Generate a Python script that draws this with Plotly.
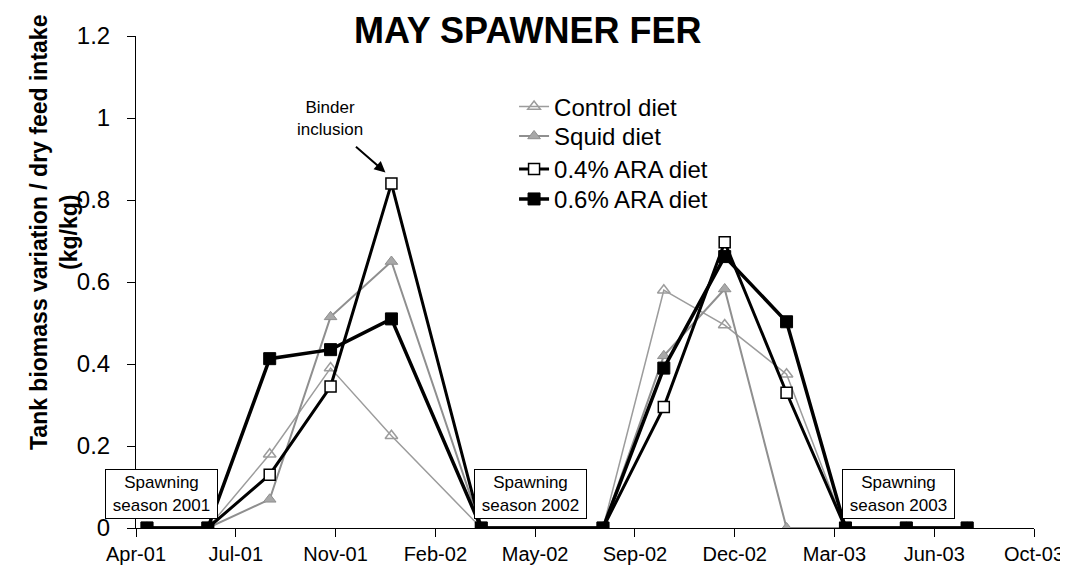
import plotly.graph_objects as go
from datetime import date, timedelta

# ---------------- data ----------------
dates = ["2001-05-01", "2001-07-01", "2001-09-01", "2001-11-01", "2002-01-01",
         "2002-04-01", "2002-08-01", "2002-10-01", "2002-12-01", "2003-02-01",
         "2003-04-01", "2003-06-01", "2003-08-01"]
control = [0, 0, 0.18, 0.39, 0.225, 0, 0, 0.58, 0.495, 0.375, 0, 0, 0]
squid = [0, 0, 0.07, 0.515, 0.65, 0, 0, 0.42, 0.583, 0, 0, 0, 0]
ara04 = [0, 0, 0.13, 0.345, 0.84, 0, 0, 0.295, 0.697, 0.33, 0, 0, 0]
ara06 = [0, 0, 0.413, 0.435, 0.51, 0, 0, 0.39, 0.662, 0.503, 0, 0, 0]

series_names = ["Control diet", "Squid diet", "0.4% ARA diet", "0.6% ARA diet"]
tick_labels = ["Apr-01", "Jul-01", "Nov-01", "Feb-02", "May-02", "Sep-02",
               "Dec-02", "Mar-03", "Jun-03", "Oct-03"]
axis_start = date(2001, 4, 20)
tick_step_days = 100
y_ticks = [0, 0.2, 0.4, 0.6, 0.8, 1, 1.2]
y_tick_text = ["0", "0.2", "0.4", "0.6", "0.8", "1", "1.2"]

FONT = "Liberation Sans, Arial, sans-serif"

tick_vals = [(axis_start + timedelta(days=tick_step_days * i)).isoformat()
             for i in range(len(tick_labels))]
x_range = [axis_start.isoformat(),
           (axis_start + timedelta(days=tick_step_days * (len(tick_labels) - 1))).isoformat()]

fig = go.Figure()

fig.add_trace(go.Scatter(
    x=dates, y=control, name=series_names[0], mode="lines+markers",
    line=dict(color="#9c9c9c", width=1.5),
    marker=dict(symbol="triangle-up-open", size=11, color="#9c9c9c",
                line=dict(color="#9c9c9c", width=1.5)),
    legend="legend"))
fig.add_trace(go.Scatter(
    x=dates, y=squid, name=series_names[1], mode="lines+markers",
    line=dict(color="#8f8f8f", width=2),
    marker=dict(symbol="triangle-up", size=11, color="#a8a8a8",
                line=dict(color="#8f8f8f", width=1)),
    legend="legend2"))
fig.add_trace(go.Scatter(
    x=dates, y=ara04, name=series_names[2], mode="lines+markers",
    line=dict(color="black", width=3),
    marker=dict(symbol="square", size=11, color="white",
                line=dict(color="black", width=1.5)),
    legend="legend3"))
fig.add_trace(go.Scatter(
    x=dates, y=ara06, name=series_names[3], mode="lines+markers",
    line=dict(color="black", width=3.5),
    marker=dict(symbol="square", size=12, color="black",
                line=dict(color="black", width=1)),
    legend="legend4"))

def leg(ypos):
    return dict(x=0.421, y=ypos, xanchor="left", yanchor="middle",
                bgcolor="rgba(0,0,0,0)", borderwidth=0,
                font=dict(family=FONT, size=24, color="black"))

annotations = [
    # chart title
    dict(text="<b>MAY SPAWNER FER</b>", x=0.436, y=1.012, xref="paper", yref="paper",
         xanchor="center", yanchor="middle", showarrow=False,
         font=dict(family=FONT, size=36, color="black")),
    # y-axis title
    dict(text="<b>Tank biomass variation / dry feed intake<br>(kg/kg)</b>",
         x=-0.0911, y=0.6, xref="paper", yref="paper", textangle=-90,
         xanchor="center", yanchor="middle", showarrow=False,
         font=dict(family=FONT, size=23, color="black")),
    # binder note
    dict(text="Binder<br>inclusion", x=0.216, y=0.833, xref="paper", yref="paper",
         xanchor="center", yanchor="middle", showarrow=False,
         font=dict(family=FONT, size=17, color="black")),
    dict(text="", x=0.2778, y=0.7227, xref="paper", yref="paper",
         showarrow=True, ax=-31, ay=-27, arrowhead=2, arrowsize=1.1,
         arrowwidth=2, arrowcolor="black"),
]
for label, xp in [("2001", 0.0283), ("2002", 0.439), ("2003", 0.849)]:
    annotations.append(dict(
        text="Spawning<br>season " + label, x=xp, y=0.0688, xref="paper", yref="paper",
        xanchor="center", yanchor="middle", showarrow=False,
        width=107, height=44, borderpad=2, bordercolor="black", borderwidth=1,
        bgcolor="white", font=dict(family=FONT, size=17, color="black")))

fig.update_layout(
    width=1068, height=569,
    margin=dict(l=128, r=40, t=28, b=47),
    paper_bgcolor="white", plot_bgcolor="white",
    showlegend=True,
    legend=leg(0.856), legend2=leg(0.796), legend3=leg(0.729), legend4=leg(0.668),
    annotations=annotations,
    font=dict(family=FONT, color="black"),
)
fig.update_xaxes(
    type="date", range=x_range, tickvals=tick_vals, ticktext=tick_labels,
    showgrid=False, zeroline=False, showline=True, linecolor="black", linewidth=1,
    ticks="outside", ticklen=8, tickcolor="black",
    tickfont=dict(family=FONT, size=20, color="black"))
fig.update_yaxes(
    range=[0, 1.2], tickvals=y_ticks, ticktext=y_tick_text,
    showgrid=False, zeroline=False, showline=True, linecolor="black", linewidth=1,
    ticks="outside", ticklen=8, tickcolor="black", ticklabelstandoff=12,
    tickfont=dict(family=FONT, size=24, color="black"))

fig.write_html("out.html")
